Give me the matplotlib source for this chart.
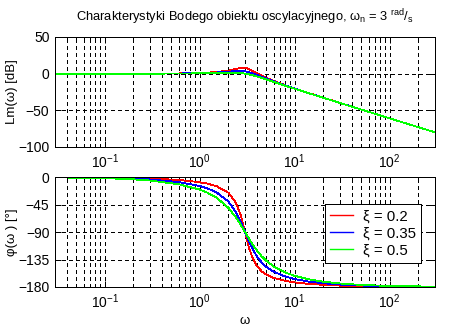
import numpy as np
import matplotlib.pyplot as plt
from matplotlib.ticker import LogLocator, NullFormatter, FixedLocator

plt.rcParams['font.family'] = ['Liberation Sans', 'DejaVu Sans']
plt.rcParams['mathtext.fontset'] = 'custom'
plt.rcParams['mathtext.rm'] = 'Liberation Sans'
plt.rcParams['mathtext.it'] = 'Liberation Sans'
plt.rcParams['mathtext.bf'] = 'Liberation Sans:bold'
plt.rcParams['lines.antialiased'] = False
plt.rcParams['patch.antialiased'] = False

# frequency points [rad/s]
omega = [0.03, 0.1, 0.2, 0.3, 0.6, 1.0, 1.2, 1.5, 2.0, 2.4, 2.7, 2.85, 3.0, 3.15,
         3.3, 3.6, 4.0, 4.5, 5.0, 6.0, 8.0, 10, 14, 20, 30, 50, 100, 300]

# Lm(omega) [dB]
lm_02 = [0.0, 0.01, 0.04, 0.08, 0.32, 0.93, 1.36, 2.20, 4.21, 6.34, 7.81, 8.13, 7.96, 7.28,
         6.24, 3.73, 0.51, -2.84, -5.57, -9.84, -15.85, -20.17, -26.39, -32.77, -39.92,
         -48.85, -60.91, -80.0]
lm_035 = [0.0, 0.01, 0.03, 0.07, 0.26, 0.73, 1.06, 1.64, 2.79, 3.53, 3.64, 3.45, 3.10, 2.59,
          1.96, 0.46, -1.69, -4.26, -6.55, -10.40, -16.11, -20.32, -26.46, -32.81, -39.93,
          -48.85, -60.91, -80.0]
lm_05 = [0.0, 0.01, 0.02, 0.04, 0.17, 0.45, 0.63, 0.90, 1.23, 1.14, 0.73, 0.40, 0.0, -0.47,
         -0.98, -2.13, -3.77, -5.81, -7.74, -11.14, -16.48, -20.54, -26.57, -32.86, -39.96,
         -48.86, -60.91, -80.0]

# phase [deg]
ph_02 = [-0.2, -0.8, -1.5, -2.3, -4.8, -8.5, -10.8, -14.9, -25.6, -41.6, -62.2, -75.6, -90.0,
         -103.7, -115.5, -132.5, -145.6, -154.4, -159.4, -165.1, -170.1, -172.5, -174.9,
         -176.5, -177.7, -178.6, -179.3, -179.8]
ph_035 = [-0.4, -1.3, -2.7, -4.0, -8.3, -14.7, -18.4, -25.0, -40.0, -57.3, -73.2, -81.7, -90.0,
          -97.9, -105.3, -117.6, -129.8, -140.0, -146.7, -155.0, -163.0, -167.0, -171.1,
          -173.9, -176.0, -177.6, -178.8, -179.6]
ph_05 = [-0.6, -1.9, -3.8, -5.8, -11.8, -20.6, -25.5, -33.7, -50.2, -65.8, -78.1, -84.1, -90.0,
         -95.6, -100.8, -110.1, -120.3, -129.8, -136.8, -146.3, -156.4, -161.7, -167.3,
         -171.3, -174.2, -176.6, -178.3, -179.4]

labels = ['ξ = 0.2', 'ξ = 0.35', 'ξ = 0.5']
colors = ['#ff0000', '#0000ff', '#00ff00']
lm_ticks = [-100, -50, 0, 50]
ph_ticks = [-180, -135, -90, -45, 0]

fs = 10
fig = plt.figure(figsize=(4.61, 3.30), dpi=100)
ax1 = fig.add_axes([55 / 461, 1 - 147 / 330, 380 / 461, 110 / 330])
ax2 = fig.add_axes([55 / 461, 1 - 287 / 330, 380 / 461, 110 / 330])

for ax, series in ((ax1, [lm_02, lm_035, lm_05]), (ax2, [ph_02, ph_035, ph_05])):
    for y, c, lab in zip(series, colors, labels):
        ax.semilogx(omega, y, color=c, lw=0.6, label=lab)
    ax.set_xlim(0.03, 300)
    ax.xaxis.set_major_locator(LogLocator(base=10, numticks=20))
    ax.xaxis.set_minor_locator(LogLocator(base=10, subs=np.arange(2, 10), numticks=20))
    ax.xaxis.set_minor_formatter(NullFormatter())
    ax.grid(True, which='both', color='k', linestyle=(0, (3, 3)), linewidth=0.72)
    ax.tick_params(which='both', direction='in', top=True, right=True,
                   labelsize=fs, width=0.72, pad=4)
    ax.tick_params(which='major', length=4)
    ax.tick_params(which='minor', length=2)
    for s in ax.spines.values():
        s.set_linewidth(0.72)

ax1.set_ylim(-100, 50)
ax1.yaxis.set_major_locator(FixedLocator(lm_ticks))
ax2.set_ylim(-180, 0)
ax2.yaxis.set_major_locator(FixedLocator(ph_ticks))

ax1.set_title(r'Charakterystyki Bodego obiektu oscylacyjnego, $\omega_{n}$ = 3 ${}^{rad}/{}_{s}$',
              fontsize=9.3, pad=11)
ax1.set_ylabel('Lm(ω) [dB]', fontsize=9.5)
ax2.set_ylabel('φ(ω ) [°]', fontsize=9.5)
ax1.yaxis.set_label_coords(-0.097, 0.5)
ax2.yaxis.set_label_coords(-0.097, 0.5)
ax2.set_xlabel('ω', fontsize=9.5)
ax2.xaxis.set_label_coords(0.5, -0.25)

leg = ax2.legend(loc='upper left', bbox_to_anchor=(325 / 461, 1 - 204 / 330),
                 bbox_transform=fig.transFigure, fontsize=10.8, fancybox=False,
                 edgecolor='k', framealpha=1, borderaxespad=0, handlelength=1.5,
                 handletextpad=0.65, borderpad=0.35, labelspacing=0.2)
leg.get_frame().set_linewidth(0.72)
for line in leg.get_lines():
    line.set_linewidth(1.0)
    line.set_antialiased(True)

plt.savefig('out.png', dpi=100)
